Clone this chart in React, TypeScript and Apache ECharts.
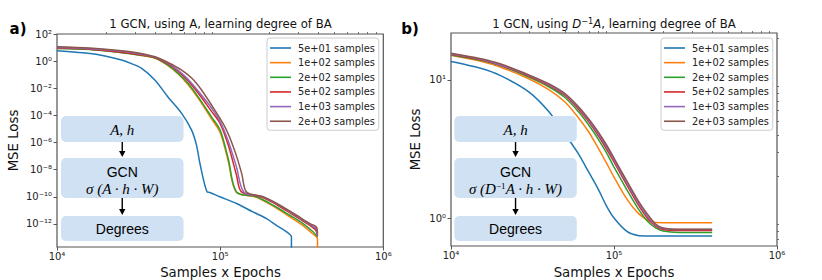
import React, { useEffect, useRef } from "react";
import * as echarts from "echarts";

const COLORS = ["#1f77b4", "#ff7f0e", "#2ca02c", "#d62728", "#9467bd", "#8c564b"];
const seriesNames = ["5e+01 samples", "1e+02 samples", "2e+02 samples", "5e+02 samples", "1e+03 samples", "2e+03 samples"];

// ---- Panel a) : using A ----
const aBlueX = [1e4, 1.549e4, 1.97e4, 2.489e4, 2.88e4, 3.304e4, 3.981e4, 4.786e4, 5.808e4, 6.683e4, 7.161e4, 7.516e4, 8.318e4, 8.65e4, 9.954e4, 1.259e5, 1.585e5, 1.923e5, 2.213e5, 2.553e5, 2.735e5, 2.736e5];
const aBlueY = [5.9, 3.8, 2.38, 1.2, 0.631, 0.295, 0.041, 2.3e-3, 1.4e-4, 8.3e-6, 6.5e-7, 2.9e-8, 2.3e-10, 2.1e-10, 1e-10, 3.2e-11, 7.8e-12, 2.5e-12, 7.9e-13, 2.6e-13, 1.1e-13, 1e-16];
const aOrangeX = [1e4, 1.585e4, 2.49e4, 3.16e4, 3.98e4, 4.79e4, 5.53e4, 6.31e4, 7.33e4, 8.85e4, 1e5, 1.122e5, 1.253e5, 1.64e5, 2.09e5, 2.63e5, 3.16e5, 3.67e5, 3.95e5, 3.96e5];
const aOrangeY = [8.9, 7.41, 4.27, 2.88, 1.66, 0.468, 0.112, 0.0209, 1.9e-3, 5.6e-5, 5.6e-6, 4e-8, 2.29e-10, 1e-10, 2.24e-11, 3.8e-12, 8.9e-13, 2e-13, 7.9e-14, 1e-16];
const aGreenX = [1e4, 1.585e4, 2.49e4, 3.16e4, 3.98e4, 4.79e4, 5.53e4, 6.31e4, 7.33e4, 8.85e4, 1e5, 1.122e5, 1.259e5, 1.667e5, 2.11e5, 2.67e5, 3.22e5, 3.72e5, 3.95e5];
const aGreenY = [8.7, 7.24, 4.17, 2.82, 1.7, 0.5, 0.126, 0.0251, 2.34e-3, 7.9e-5, 8.3e-6, 6.3e-8, 2.29e-10, 1e-10, 2.4e-11, 4.37e-12, 1.07e-12, 2.57e-13, 1.12e-13];
const aRedX = [1e4, 1.585e4, 2.49e4, 3.16e4, 3.98e4, 4.79e4, 5.53e4, 6.31e4, 7.33e4, 8.85e4, 1e5, 1.122e5, 1.259e5, 1.352e5, 1.778e5, 2.239e5, 2.818e5, 3.388e5, 3.846e5, 3.95e5];
const aRedY = [9.12, 7.59, 4.57, 3.09, 1.86, 0.631, 0.178, 0.0398, 4.47e-3, 2e-4, 2.5e-5, 6.3e-7, 4e-9, 2.29e-10, 1e-10, 2.5e-11, 4.47e-12, 1.12e-12, 3.55e-13, 1.26e-13];
const aPurpleX = [1e4, 1.585e4, 2.49e4, 3.16e4, 3.98e4, 4.79e4, 5.53e4, 6.31e4, 7.33e4, 8.85e4, 1e5, 1.122e5, 1.259e5, 1.396e5, 1.82e5, 2.29e5, 2.884e5, 3.467e5, 3.873e5, 3.95e5];
const aPurpleY = [10, 8.32, 5.25, 3.47, 2.0, 0.708, 0.209, 0.0501, 6.3e-3, 3.55e-4, 3.55e-5, 1.26e-6, 1.6e-8, 2.29e-10, 1e-10, 2.5e-11, 4.47e-12, 1.12e-12, 4.47e-13, 1.41e-13];
const aBrownX = [1e4, 1.585e4, 2.49e4, 3.16e4, 3.98e4, 4.79e4, 5.81e4, 6.76e4, 7.69e4, 9.27e4, 1.069e5, 1.163e5, 1.266e5, 1.358e5, 1.451e5, 1.832e5, 2.323e5, 2.938e5, 3.548e5, 3.89e5, 3.95e5];
const aBrownY = [11.5, 9.12, 5.89, 3.98, 2.09, 0.794, 0.219, 0.0501, 7.4e-3, 2.45e-4, 1.45e-5, 1.5e-6, 8.4e-8, 4.7e-9, 2.29e-10, 1e-10, 2.4e-11, 4.37e-12, 1.07e-12, 6e-13, 1.78e-13];

// ---- Panel b) : using D^-1 A ----
const bX = [1e4, 1.5e4, 2e4, 3e4, 4e4, 5e4, 6e4, 7e4, 8e4, 9e4, 1e5, 1.2e5, 1.4e5, 1.6e5, 1.8e5, 2e5, 2.5e5, 3e5, 4e5];
const bBlue = [13.6, 12.2, 10.8, 8.2, 5.86, 4.06, 2.96, 2.15, 1.62, 1.22, 1.0, 0.8, 0.746, 0.741, 0.74, 0.74, 0.74, 0.74, 0.74];
const bOrange = [15.1, 13.7, 12.4, 10.2, 8.47, 6.93, 5.4, 4.2, 3.21, 2.5, 1.98, 1.37, 1.09, 0.968, 0.927, 0.925, 0.925, 0.925, 0.925];
const bGreen = [15.2, 13.95, 12.7, 10.5, 8.9, 7.47, 5.96, 4.72, 3.73, 2.96, 2.34, 1.6, 1.18, 0.95, 0.847, 0.805, 0.787, 0.787, 0.787];
const bRed = [15.3, 14.1, 12.8, 10.7, 9.12, 7.72, 6.22, 4.97, 3.96, 3.16, 2.55, 1.73, 1.26, 1.0, 0.875, 0.826, 0.811, 0.811, 0.811];
const bPurple = [15.4, 14.2, 12.9, 10.8, 9.23, 7.85, 6.37, 5.09, 4.07, 3.27, 2.63, 1.79, 1.31, 1.03, 0.889, 0.839, 0.826, 0.826, 0.826];
const bBrown = [15.6, 14.3, 13.1, 10.9, 9.36, 7.98, 6.48, 5.22, 4.2, 3.38, 2.72, 1.85, 1.35, 1.07, 0.905, 0.847, 0.828, 0.828, 0.828];

// ---- Axis ticks ----
const xMajorTicks = [1e4, 1e5, 1e6];
const xMinorTicks = [2e4, 3e4, 4e4, 5e4, 6e4, 7e4, 8e4, 9e4, 2e5, 3e5, 4e5, 5e5, 6e5, 7e5, 8e5, 9e5];
const aYMajorTicks = [1e2, 1e0, 1e-2, 1e-4, 1e-6, 1e-8, 1e-10, 1e-12];
const bYMajorTicks = [1e0, 1e1];
const bYMinorTicks = [0.7, 0.8, 0.9, 2, 3, 4, 5, 6, 7, 8, 9, 20];
const xRange = [1e4, 1e6];
const aYRange = [2e-14, 1e2];
const bYRange = [0.627, 21.9];

const L = (v: number) => Math.log10(v);
const SUP: Record<string, string> = { "0": "⁰", "1": "¹", "2": "²", "3": "³", "4": "⁴", "5": "⁵", "6": "⁶", "7": "⁷", "8": "⁸", "9": "⁹", "-": "⁻" };
const powLabel = (v: number) => "10" + String(Math.round(v)).split("").map((c) => SUP[c] || c).join("");

const FONT = "DejaVu Sans";
const AX = "#555";
const NOLINE = { show: false, onZero: false };

function xAxes(gi: number) {
  return [
    {
      gridIndex: gi, type: "value", min: L(xRange[0]), max: L(xRange[1]),
      axisLine: NOLINE, splitLine: { show: false },
      axisTick: { show: true, customValues: xMajorTicks.map(L), length: 3.5, lineStyle: { color: AX, width: 1 } },
      axisLabel: { customValues: xMajorTicks.map(L), formatter: powLabel, fontSize: 10, fontFamily: FONT, color: "#222", margin: 4 },
    },
    {
      gridIndex: gi, type: "value", min: L(xRange[0]), max: L(xRange[1]),
      axisLine: NOLINE, splitLine: { show: false }, axisLabel: { show: false },
      axisTick: { show: true, customValues: xMinorTicks.map(L), length: 2, lineStyle: { color: AX, width: 0.8 } },
    },
  ];
}

function mkSeries(name: string, color: string, xs: number[], ys: number[], xi: number, yi: number, smooth: number | boolean) {
  return {
    name, type: "line", xAxisIndex: xi, yAxisIndex: yi, showSymbol: false, symbol: "none", smooth,
    clip: true, lineStyle: { color, width: 1.5 }, itemStyle: { color },
    data: xs.map((x, i) => [L(x), L(ys[i])]),
  };
}

function legendAt(left: number) {
  return {
    data: seriesNames.map((n) => ({ name: n, icon: "rect" })), orient: "vertical", left, top: 38,
    itemWidth: 21, itemHeight: 1.6, itemGap: 2.65, padding: [4, 4, 3, 3],
    backgroundColor: "rgba(255,255,255,0.85)", borderColor: "#ccc", borderWidth: 1, borderRadius: 3,
    textStyle: { fontSize: 9.8, lineHeight: 12, fontFamily: FONT, color: "#222", padding: [0, 0, 0, 2] },
  };
}

function inset(x0: number, formula: any[]) {
  const w = 122.5;
  const cx = x0 + w / 2;
  const fill = "#cfe1f2";
  const els: any[] = [
    { type: "rect", shape: { x: x0, y: 116, width: w, height: 26, r: 5 }, style: { fill }, z: 100 },
    { type: "rect", shape: { x: x0, y: 158, width: w, height: 40, r: 5 }, style: { fill }, z: 100 },
    { type: "rect", shape: { x: x0, y: 216, width: w, height: 25, r: 5 }, style: { fill }, z: 100 },
    { type: "line", shape: { x1: cx, y1: 142, x2: cx, y2: 152 }, style: { stroke: "#000", lineWidth: 1.4 }, z: 101 },
    { type: "polygon", shape: { points: [[cx - 3.2, 151], [cx + 3.2, 151], [cx, 157]] }, style: { fill: "#000" }, z: 101 },
    { type: "line", shape: { x1: cx, y1: 198, x2: cx, y2: 210 }, style: { stroke: "#000", lineWidth: 1.4 }, z: 101 },
    { type: "polygon", shape: { points: [[cx - 3.2, 209], [cx + 3.2, 209], [cx, 215]] }, style: { fill: "#000" }, z: 101 },
    { type: "text", x: cx, y: 129.5, z: 102, style: { text: "A, h", fontFamily: "Liberation Serif", fontStyle: "italic", fontSize: 15, fill: "#000", align: "center", verticalAlign: "middle" } },
    { type: "text", x: cx, y: 171.5, z: 102, style: { text: "GCN", fontFamily: "Liberation Sans", fontSize: 14, fill: "#000", align: "center", verticalAlign: "middle" } },
    { type: "text", x: cx, y: 189, z: 102, style: { text: formula[0], rich: formula[1], fontFamily: "Liberation Serif", fontStyle: "italic", fontSize: 15, fill: "#000", align: "center", verticalAlign: "middle" } },
    { type: "text", x: cx, y: 229, z: 102, style: { text: "Degrees", fontFamily: "Liberation Sans", fontSize: 14, fill: "#000", align: "center", verticalAlign: "middle" } },
  ];
  return els;
}

export default function App() {
  const ref = useRef<HTMLDivElement>(null);
  useEffect(() => {
    if (!ref.current) return;
    const chart = echarts.init(ref.current, undefined, { renderer: "svg" });
    const grids = [
      { left: 57, top: 34, width: 326.3, height: 213 },
      { left: 451, top: 33, width: 326, height: 213 },
    ].map((g) => ({ ...g, show: true, borderColor: AX, borderWidth: 1.2, backgroundColor: "transparent" }));

    const yLabel = { formatter: powLabel, fontSize: 10, fontFamily: FONT, color: "#222", margin: 5 };
    const yAxis = [
      {
        gridIndex: 0, type: "value", min: L(aYRange[0]), max: L(aYRange[1]),
        axisLine: NOLINE, splitLine: { show: false },
        axisTick: { show: true, customValues: aYMajorTicks.map(L), length: 3.5, lineStyle: { color: AX } },
        axisLabel: { ...yLabel, customValues: aYMajorTicks.map(L) },
      },
      {
        gridIndex: 1, type: "value", min: L(bYRange[0]), max: L(bYRange[1]),
        axisLine: NOLINE, splitLine: { show: false },
        axisTick: { show: true, customValues: bYMajorTicks.map(L), length: 3.5, lineStyle: { color: AX } },
        axisLabel: { ...yLabel, customValues: bYMajorTicks.map(L) },
      },
      {
        gridIndex: 1, type: "value", min: L(bYRange[0]), max: L(bYRange[1]),
        axisLine: NOLINE, splitLine: { show: false }, axisLabel: { show: false },
        axisTick: { show: true, customValues: bYMinorTicks.map(L), length: 2, lineStyle: { color: AX, width: 0.8 } },
      },
    ];

    const aData = [[aBlueX, aBlueY], [aOrangeX, aOrangeY], [aGreenX, aGreenY], [aRedX, aRedY], [aPurpleX, aPurpleY], [aBrownX, aBrownY]];
    const bData = [bBlue, bOrange, bGreen, bRed, bPurple, bBrown];
    const series: any[] = [];
    aData.forEach((d, i) => series.push(mkSeries(seriesNames[i], COLORS[i], d[0], d[1], 0, 0, 0.3)));
    bData.forEach((ys, i) => series.push(mkSeries(seriesNames[i], COLORS[i], bX, ys, 2, 1, 0.25)));

    const titleStyle = { fontFamily: FONT, fontSize: 11.7, fill: "#111", align: "center", verticalAlign: "middle" };
    const axisNameStyle = { fontFamily: FONT, fontSize: 13.3, fill: "#111", align: "center", verticalAlign: "middle" };

    const graphic: any[] = [
      { type: "text", x: 220.5, y: 24, style: { ...titleStyle, text: "1 GCN, using A, learning degree of BA" } },
      {
        type: "text", x: 614, y: 24,
        style: {
          ...titleStyle,
          text: "1 GCN, using {i|D}{s|−1}{i|A}, learning degree of BA",
          rich: {
            i: { fontFamily: FONT, fontStyle: "italic", fontSize: 11.7, fill: "#111" },
            s: { fontFamily: FONT, fontSize: 8.2, fill: "#111", verticalAlign: "top", lineHeight: 14 },
          },
        },
      },
      { type: "text", x: 18, y: 29, style: { text: "a)", fontFamily: FONT, fontWeight: "bold", fontSize: 15, fill: "#000", align: "center", verticalAlign: "middle" } },
      { type: "text", x: 410, y: 29, style: { text: "b)", fontFamily: FONT, fontWeight: "bold", fontSize: 15, fill: "#000", align: "center", verticalAlign: "middle" } },
      { type: "text", x: 13, y: 140.5, rotation: Math.PI / 2, style: { ...axisNameStyle, text: "MSE Loss" } },
      { type: "text", x: 415, y: 139.5, rotation: Math.PI / 2, style: { ...axisNameStyle, text: "MSE Loss" } },
      { type: "text", x: 220.5, y: 272, style: { ...axisNameStyle, text: "Samples x Epochs" } },
      { type: "text", x: 614, y: 272, style: { ...axisNameStyle, text: "Samples x Epochs" } },
      ...inset(61, ["σ (A · h · W)", {}]),
      ...inset(454.3, [
        "σ (D{s|−1}A · h · W)",
        { s: { fontFamily: "Liberation Serif", fontStyle: "normal", fontSize: 9, verticalAlign: "top", lineHeight: 16 } },
      ]),
    ];

    chart.setOption({
      animation: false,
      grid: grids,
      xAxis: [...xAxes(0), ...xAxes(1)],
      yAxis,
      legend: [legendAt(267), legendAt(661)],
      series,
      graphic,
    });
    return () => chart.dispose();
  }, []);
  return <div ref={ref} style={{ width: 822, height: 280, position: "absolute", left: 0, top: 0 }} />;
}
